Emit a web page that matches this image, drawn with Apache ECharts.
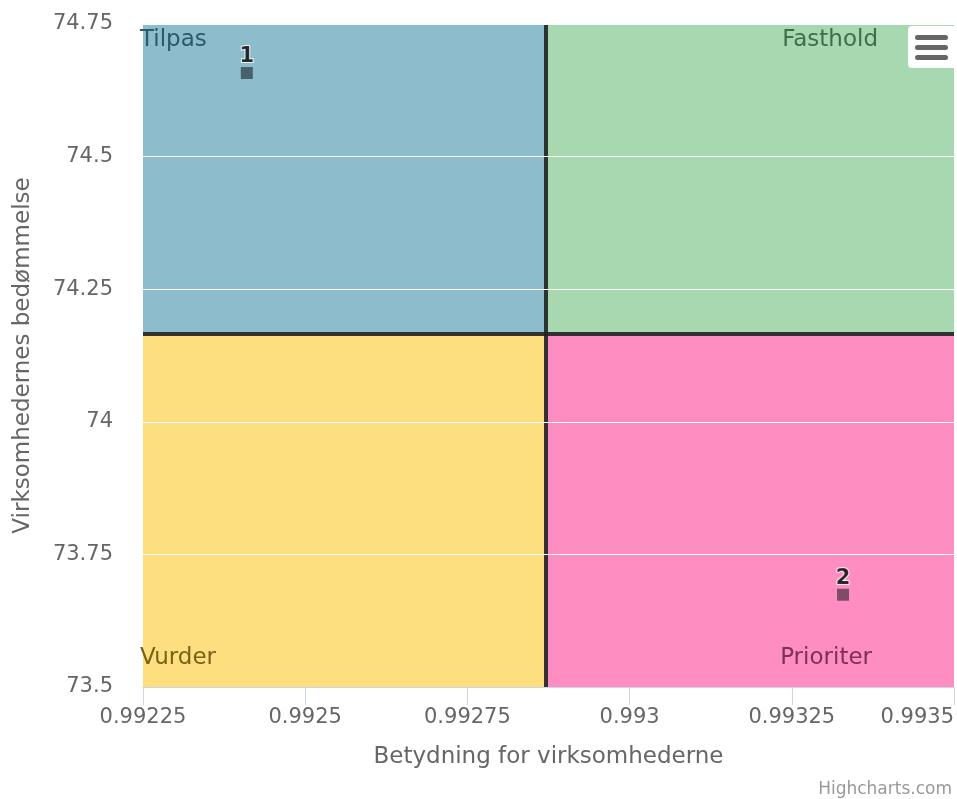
<!DOCTYPE html>
<html>
<head>
<meta charset="utf-8">
<script src="https://cdn.jsdelivr.net/npm/echarts@6/dist/echarts.min.js"></script>
<style>
html,body{margin:0;padding:0;background:#fff;}
#chart{width:957px;height:799px;}
</style>
</head>
<body>
<div id="chart"></div>
<script>
// ---- data ----
var pointNames = ['1', '2'];
var xValues = [0.99241, 0.993329];
var yValues = [74.6576, 73.674];
var xRange = [0.99225, 0.9935];
var yRange = [73.5, 74.75];
var xStep = 0.00025;
var yStep = 0.25;
var dividerX = 0.99287;
var dividerY = 74.1658;
var quadrantNames = ['Tilpas', 'Fasthold', 'Vurder', 'Prioriter'];
var quadrantColors = ['#8dbdcc', '#a8d8b0', '#fddf7f', '#fe8ec2'];
var quadrantTextColors = ['#2b5a68', '#3e6e48', '#7a6216', '#7e305a'];
var xTitle = 'Betydning for virksomhederne';
var yTitle = 'Virksomhedernes bedømmelse';
var creditText = 'Highcharts.com';

var FONT = 'DejaVu Sans';
var chart = echarts.init(document.getElementById('chart'), null, {renderer: 'canvas'});

var points = pointNames.map(function (n, i) { return {name: n, value: [xValues[i], yValues[i]]}; });

function fmt(v) { return String(parseFloat(v.toFixed(6))); }

var option = {
  animation: false,
  backgroundColor: '#fff',
  grid: {left: 143, right: 3, top: 24, bottom: 112},
  xAxis: {
    type: 'value', min: xRange[0], max: xRange[1], interval: xStep, zlevel: 1,
    name: xTitle, nameLocation: 'middle', nameGap: 59,
    nameTextStyle: {color: '#666', fontFamily: FONT, fontSize: 23},
    axisLine: {show: true, lineStyle: {color: '#ccd6eb', width: 1}},
    axisTick: {show: true, length: 18, lineStyle: {color: '#ccd6eb'}},
    axisLabel: {color: '#666', fontFamily: FONT, fontSize: 21, margin: 20, formatter: fmt, alignMaxLabel: 'right'},
    splitLine: {show: false}
  },
  yAxis: {
    type: 'value', min: yRange[0], max: yRange[1], interval: yStep, zlevel: 1, z: 0,
    name: yTitle, nameLocation: 'middle', nameGap: 108, nameRotate: 90,
    nameTextStyle: {color: '#666', fontFamily: FONT, fontSize: 23},
    axisLine: {show: false}, axisTick: {show: false},
    axisLabel: {color: '#666', fontFamily: FONT, fontSize: 21, margin: 30, formatter: fmt},
    splitLine: {show: true, lineStyle: {color: '#ffffff', width: 1}}
  },
  series: [
    {
      type: 'scatter', data: [], zlevel: 0, z: 0, silent: true,
      markArea: {
        silent: true,
        label: {show: false},
        data: [
          [{coord: [xRange[0], dividerY], itemStyle: {color: quadrantColors[0], opacity: 1}}, {coord: [dividerX, yRange[1]]}],
          [{coord: [dividerX, dividerY], itemStyle: {color: quadrantColors[1], opacity: 1}}, {coord: [xRange[1], yRange[1]]}],
          [{coord: [xRange[0], yRange[0]], itemStyle: {color: quadrantColors[2], opacity: 1}}, {coord: [dividerX, dividerY]}],
          [{coord: [dividerX, yRange[0]], itemStyle: {color: quadrantColors[3], opacity: 1}}, {coord: [xRange[1], dividerY]}]
        ]
      }
    },
    {
      type: 'scatter', zlevel: 1, z: 3,
      symbol: 'rect', symbolSize: 12,
      itemStyle: {color: 'rgba(10,15,22,0.65)'},
      label: {
        show: true, position: 'top', distance: 0,
        formatter: function (p) { return p.name; },
        color: '#000', fontFamily: FONT, fontSize: 21, fontWeight: 'bold',
        textBorderColor: '#fff', textBorderWidth: 2
      },
      markLine: {
        silent: true, symbol: 'none', label: {show: false}, z: 2,
        lineStyle: {color: '#1e2222', width: 4, type: 'solid', opacity: 0.9},
        data: [
          [{coord: [dividerX, yRange[0]]}, {coord: [dividerX, yRange[1]]}],
          [{coord: [xRange[0], dividerY]}, {coord: [xRange[1], dividerY]}]
        ]
      },
      data: points
    }
  ],
  graphic: [
    {type: 'text', left: 140, top: 29, z: 10, zlevel: 2, silent: true,
     style: {text: quadrantNames[0], fill: quadrantTextColors[0], font: '23px "DejaVu Sans"'}},
    {type: 'text', right: 79, top: 29, z: 10, zlevel: 2, silent: true,
     style: {text: quadrantNames[1], fill: quadrantTextColors[1], font: '23px "DejaVu Sans"'}},
    {type: 'text', left: 140, top: 647, z: 10, zlevel: 2, silent: true,
     style: {text: quadrantNames[2], fill: quadrantTextColors[2], font: '23px "DejaVu Sans"'}},
    {type: 'text', right: 85, top: 647, z: 10, zlevel: 2, silent: true,
     style: {text: quadrantNames[3], fill: quadrantTextColors[3], font: '23px "DejaVu Sans"'}},
    {type: 'text', right: 5, top: 781, z: 10, zlevel: 2, silent: true,
     style: {text: creditText, fill: '#999', font: '17px "DejaVu Sans"'}},
    {type: 'rect', left: 908, top: 26, z: 20, zlevel: 2, silent: true,
     shape: {width: 49, height: 42, r: [4, 0, 0, 4]}, style: {fill: '#fff'}},
    {type: 'rect', left: 915, top: 35, z: 21, zlevel: 2, silent: true,
     shape: {width: 33, height: 5, r: 2.5}, style: {fill: '#666'}},
    {type: 'rect', left: 915, top: 45, z: 21, zlevel: 2, silent: true,
     shape: {width: 33, height: 5, r: 2.5}, style: {fill: '#666'}},
    {type: 'rect', left: 915, top: 55, z: 21, zlevel: 2, silent: true,
     shape: {width: 33, height: 5, r: 2.5}, style: {fill: '#666'}}
  ]
};
chart.setOption(option);
</script>
</body>
</html>
